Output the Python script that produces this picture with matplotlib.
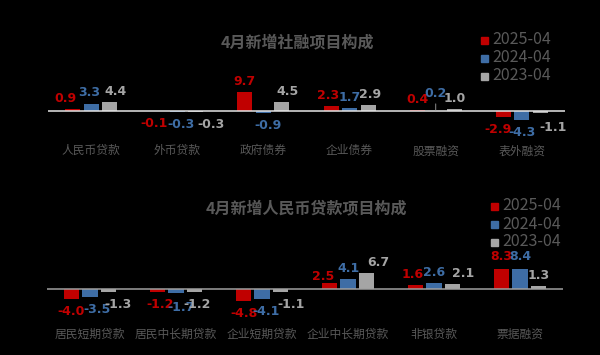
import matplotlib.pyplot as plt
from matplotlib.patches import Rectangle

plt.rcParams['font.family'] = ['Noto Sans CJK SC', 'DejaVu Sans']

# 社融
cats1 = ['人民币贷款', '外币贷款', '政府债券', '企业债券', '股票融资', '表外融资']
s1_2025 = [0.9, -0.1, 9.7, 2.3, 0.4, -2.9]
s1_2024 = [3.3, -0.3, -0.9, 1.7, 0.2, -4.3]
s1_2023 = [4.4, -0.3, 4.5, 2.9, 1.0, -1.1]

# 人民币贷款
cats2 = ['居民短期贷款', '居民中长期贷款', '企业短期贷款', '企业中长期贷款', '非银贷款', '票据融资']
s2_2025 = [-4.0, -1.2, -4.8, 2.5, 1.6, 8.3]
s2_2024 = [-3.5, -1.7, -4.1, 4.1, 2.6, 8.4]
s2_2023 = [-1.3, -1.2, -1.1, 6.7, 2.1, 1.3]

names = ['2025-04', '2024-04', '2023-04']
colors = ['#C00000', '#3E6DA5', '#A5A5A5']
txtgray = '#595959'

# label nudges in pixels (series, category): (dx, dy), dy up
nudge1 = {(0, 0): (-7, 0), (1, 0): (-2, 1), (2, 0): (6, 0),
          (0, 1): (-5, 0), (1, 1): (4, 0), (2, 1): (15, 0),
          (1, 2): (5, 0), (2, 2): (6, 0),
          (0, 3): (-3, 0), (2, 3): (2, 0),
          (1, 4): (0, 7),
          (0, 5): (-5, 0), (2, 5): (13, -2)}
nudge2 = {(1, 0): (7, 0), (2, 0): (10, 0),
          (0, 1): (3, 0), (1, 1): (5, -2), (2, 1): (3, 0),
          (1, 2): (4, 0), (2, 2): (11, 0),
          (0, 3): (-6, -4), (1, 3): (1, 0), (2, 3): (12, 0),
          (0, 4): (-3, 0), (2, 4): (11, 0),
          (0, 5): (0, 2), (1, 5): (0, 2)}
leader1 = [(1, 4)]

fig = plt.figure(figsize=(6, 3.55), dpi=100, facecolor='black')


def draw(ax, cats, series, ylim, linecolor, pad, nudge, leaders=()):
    ax.set_facecolor('black')
    x = range(len(cats))
    w = 0.175
    offs = [-0.215, 0, 0.215]
    for s, (vals, c, o) in enumerate(zip(series, colors, offs)):
        xs = [i + o for i in x]
        ax.bar(xs, vals, width=w, color=c, zorder=2)
        for i, (xi, v) in enumerate(zip(xs, vals)):
            dx, dy = nudge.get((s, i), (0, 0))
            base = 7.5 if v >= 0 else -9
            kw = {}
            if (s, i) in leaders:
                kw['arrowprops'] = dict(arrowstyle='-', color='#A6A6A6', lw=0.6,
                                        shrinkA=1, shrinkB=0)
            ax.annotate('%.1f' % v, (xi, v), xytext=(dx * 0.72, base + dy * 0.72),
                        textcoords='offset points', ha='center', va='center',
                        color=c, fontsize=9, fontweight='bold',
                        family='DejaVu Sans', zorder=4, **kw)
    ax.axhline(0, color=linecolor, lw=1.1, zorder=3)
    ax.set_xlim(-0.5, len(cats) - 0.5)
    ax.set_ylim(*ylim)
    ax.set_yticks([])
    ax.set_xticks(list(x))
    ax.set_xticklabels(cats, fontsize=8.5, color=txtgray)
    ax.tick_params(axis='x', length=0, pad=pad)
    for sp in ax.spines.values():
        sp.set_visible(False)


ax1 = fig.add_axes([48 / 600, 1 - 140 / 355, 517 / 600, 80 / 355])
draw(ax1, cats1, [s1_2025, s1_2024, s1_2023], (-14.5, 25.5), '#E6E6E6', 3,
     nudge1, leader1)

ax2 = fig.add_axes([47 / 600, 1 - 320 / 355, 516 / 600, 80 / 355])
draw(ax2, cats2, [s2_2025, s2_2024, s2_2023], (-12.9, 20.4), '#A0A0A0', 5.5,
     nudge2)

fig.text(297 / 600, 1 - 42 / 355, '4月新增社融项目构成', ha='center', va='center',
         fontsize=11.5, fontweight='bold', color=txtgray)
fig.text(306 / 600, 1 - 208 / 355, '4月新增人民币贷款项目构成', ha='center', va='center',
         fontsize=11.5, fontweight='bold', color=txtgray)

# legends
for lx, ly in [(481, 40), (491, 206)]:
    for k, (n, c) in enumerate(zip(names, colors)):
        yc = ly + 18 * k
        fig.add_artist(Rectangle((lx / 600, 1 - (yc + 3.5) / 355), 7 / 600, 7 / 355,
                                 transform=fig.transFigure, color=c))
        fig.text((lx + 11) / 600, 1 - yc / 355, n, ha='left', va='center',
                 fontsize=11.5, color=txtgray)

plt.savefig('out.png', dpi=100, facecolor='black')
